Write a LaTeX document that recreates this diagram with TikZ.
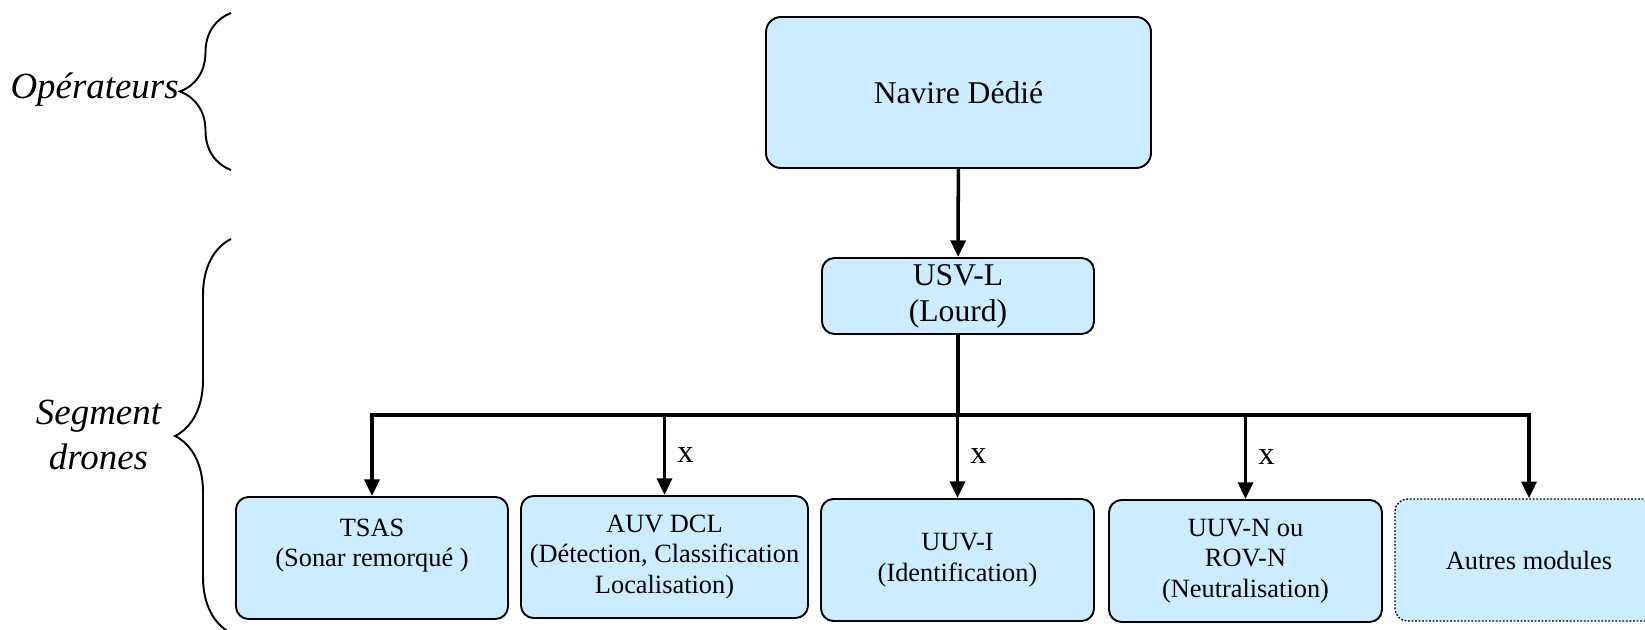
\documentclass[tikz,border=0pt]{standalone}
\usepackage{fontspec}
\setmainfont{Liberation Serif}
\usetikzlibrary{arrows.meta,decorations.pathreplacing}
\definecolor{boxblue}{RGB}{204,236,255}

\begin{document}
\begin{tikzpicture}[
  box/.style={draw, line width=1.1pt, fill=boxblue, rounded corners=0.25cm,
    align=center, inner sep=2pt, minimum height=2.44cm},
  small/.style={font=\fontsize{15}{17.3}\selectfont},
  big/.style={font=\fontsize{18}{20.5}\selectfont},
  side/.style={font=\fontsize{21}{26}\selectfont\itshape, align=center, inner sep=0pt},
  link/.style={line width=2pt, -{Triangle[width=8.5pt,length=9.5pt]}},
  bracket/.style={decorate, line width=1.1pt}
]
  \useasboundingbox (0,0) rectangle (32.9,12.58);

  % Ship and heavy USV
  \node[box, big, minimum width=7.7cm, minimum height=3.02cm, rounded corners=0.3cm]
    (nav) at (19.17,10.73) {Navire Dédié};
  \node[box, big, minimum width=5.44cm, minimum height=1.52cm]
    (usv) at (19.16,6.66) {USV-L\\(Lourd)};

  % Modules
  \node[box, small, minimum width=5.44cm] (tsas) at (7.44,1.42) {TSAS\\(Sonar remorqué )\\ };
  \node[box, small, minimum width=5.74cm] (auv) at (13.29,1.44)
    {AUV DCL\\(Détection, Classification\\Localisation)};
  \node[box, small, minimum width=5.46cm] (uuvi) at (19.15,1.38) {UUV-I\\(Identification)};
  \node[box, small, minimum width=5.46cm] (uuvn) at (24.91,1.36)
    {UUV-N ou\\ROV-N\\(Neutralisation)};
  \node[box, small, minimum width=5.36cm, line width=0.8pt, dash pattern=on 1pt off 1pt]
    (autre) at (30.58,1.38) {Autres modules};

  % Links
  \coordinate (fork) at (usv.south |- 0,4.28);
  \draw[link] (nav) -- (usv);
  \draw[line width=2pt] (usv.south) -- (fork);
  \draw[link] (fork) -| (tsas.north);
  \draw[link] (fork) -| (autre.north);
  \foreach \n in {auv,uuvi,uuvn}
    \draw[link] (\n.north |- fork) -- node[right=3pt, font=\fontsize{18.5}{20}\selectfont] {x} (\n.north);

  % Braces and labels
  \draw[bracket, decoration={brace, amplitude=1.02cm}] (4.62,9.18) -- (4.62,12.32);
  \draw[bracket, decoration={brace, amplitude=1.12cm}] (4.62,-0.08) -- (4.62,7.80);
  \node[side, anchor=east] (ops) at (3.58,10.78) {Opérateurs};
  \node[side] (seg) at (1.97,3.88) {Segment\\drones};
\end{tikzpicture}
\end{document}
